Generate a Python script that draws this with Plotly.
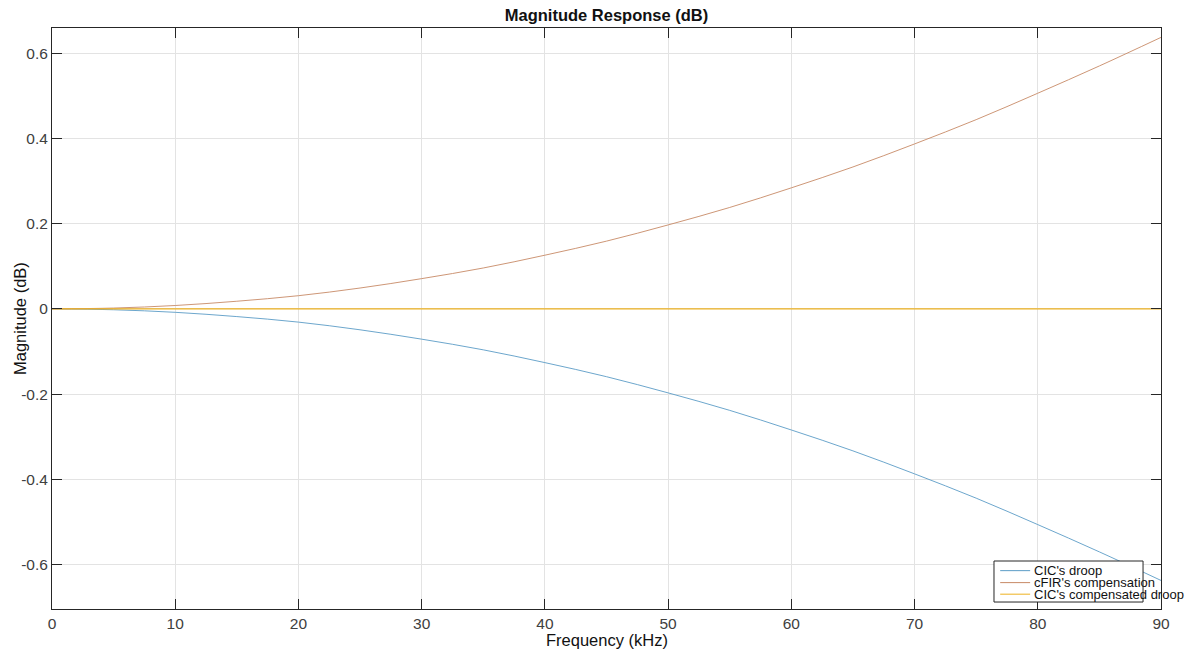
import plotly.graph_objects as go

# Frequency grid (kHz) and magnitude responses (dB)
freq_khz = [0, 5, 10, 15, 20, 25, 30, 35, 40, 45, 50, 55, 60, 65, 70, 75, 80, 85, 90]
cic_droop = [0, -0.002, -0.008, -0.018, -0.031, -0.049, -0.071, -0.096, -0.126, -0.159,
             -0.197, -0.238, -0.284, -0.333, -0.387, -0.444, -0.506, -0.570, -0.637]
cfir_comp = [0, 0.002, 0.008, 0.018, 0.031, 0.049, 0.071, 0.096, 0.126, 0.159,
             0.197, 0.238, 0.284, 0.333, 0.387, 0.444, 0.506, 0.570, 0.637]
comp_droop = [0, 0, 0, 0, 0, 0, 0, 0, 0, 0, 0, 0, 0, 0, 0, 0, 0, 0, 0]

x_ticks = [0, 10, 20, 30, 40, 50, 60, 70, 80, 90]
y_ticks = [-0.6, -0.4, -0.2, 0, 0.2, 0.4, 0.6]
y_tick_text = ["-0.6", "-0.4", "-0.2", "0", "0.2", "0.4", "0.6"]

series_names = ["CIC's droop", "cFIR's compensation", "CIC's compensated droop"]
series_colors = ["#5b9cc6", "#c78a66", "#EDB120"]
series_widths = [0.9, 0.9, 1.3]

FONT = "Liberation Sans, Arial, Helvetica, sans-serif"

fig = go.Figure()
for name, vals, col, w in zip(series_names, [cic_droop, cfir_comp, comp_droop],
                              series_colors, series_widths):
    fig.add_trace(go.Scatter(
        x=freq_khz, y=vals, mode="lines", name=name,
        line=dict(color=col, width=w, shape="spline"),
        showlegend=False,
    ))

axis_common = dict(
    showline=True, linecolor="#262626", linewidth=1, mirror="allticks",
    ticks="inside", ticklen=10, tickcolor="#262626", tickwidth=1,
    showgrid=True, gridcolor="#e3e3e3", gridwidth=1, zeroline=False,
    automargin=False,
    tickfont=dict(family=FONT, size=15.5, color="#404040"),
)

fig.update_layout(
    width=1200, height=651,
    margin=dict(l=52, r=39, t=28, b=42),
    paper_bgcolor="white", plot_bgcolor="white",
    title=dict(text="<b>Magnitude Response (dB)</b>", x=0.5054, xanchor="center",
               y=0.977, yanchor="middle",
               font=dict(family=FONT, size=16.5, color="#111111")),
    xaxis=dict(range=[0, 90], tickvals=x_ticks, **axis_common),
    yaxis=dict(range=[-0.704, 0.659], tickvals=y_ticks, ticktext=y_tick_text,
               **axis_common),
)

# Axis labels placed close to the tick labels
fig.add_annotation(xref="paper", yref="paper", x=0.5, y=-0.0534, text="Frequency (kHz)",
                   showarrow=False, xanchor="center", yanchor="middle",
                   font=dict(family=FONT, size=16.5, color="#111111"))
fig.add_annotation(xref="paper", yref="paper", x=-0.0293, y=0.5, text="Magnitude (dB)",
                   textangle=-90, showarrow=False, xanchor="center", yanchor="middle",
                   font=dict(family=FONT, size=16.5, color="#111111"))

# Legend box in the lower-right corner of the axes
lx0, lx1, ly0, ly1 = 0.8494, 0.9838, 0.012, 0.0826
fig.add_shape(type="rect", xref="paper", yref="paper", x0=lx0, x1=lx1, y0=ly0, y1=ly1,
              fillcolor="white", line=dict(color="#262626", width=1), layer="above")
row_y = [0.0660, 0.0454, 0.0255]
for name, col, ry in zip(series_names, series_colors, row_y):
    fig.add_shape(type="line", xref="paper", yref="paper", x0=0.855, x1=0.882, y0=ry, y1=ry,
                  line=dict(color=col, width=1), layer="above")
    fig.add_annotation(xref="paper", yref="paper", x=0.884, y=ry, text=name, showarrow=False,
                       xanchor="left", yanchor="middle",
                       font=dict(family=FONT, size=13, color="#111111"))

fig.write_html("out.html")
